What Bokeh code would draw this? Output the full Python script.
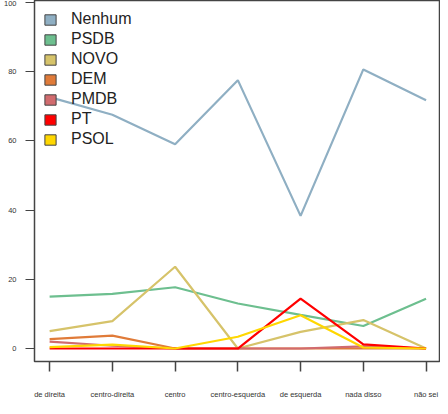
from bokeh.plotting import figure
from bokeh.models import Range1d, FixedTicker, Legend, LegendItem, ColumnDataSource
from bokeh.embed import file_html
from bokeh.resources import INLINE

categories = ["de direita", "centro-direita", "centro", "centro-esquerda",
              "de esquerda", "nada disso", "não sei"]
y_ticks = [0, 20, 40, 60, 80, 100]

series_names = ["Nenhum", "PSDB", "NOVO", "DEM", "PMDB", "PT", "PSOL"]
nenhum = [72.6, 67.5, 59.0, 77.5, 38.3, 80.6, 71.7]
psdb = [15.0, 15.8, 17.7, 13.0, 9.7, 6.5, 14.4]
novo = [5.0, 7.9, 23.6, 0.0, 4.8, 8.2, 0.0]
dem = [2.7, 3.7, 0.0, 0.0, 0.0, 0.0, 0.0]
pmdb = [2.0, 0.8, 0.0, 0.0, 0.0, 0.6, 0.0]
pt = [0.0, 0.0, 0.0, 0.0, 14.4, 1.2, 0.0]
psol = [0.4, 1.1, 0.0, 3.4, 9.6, 0.3, 0.0]
series_values = [nenhum, psdb, novo, dem, pmdb, pt, psol]
colors = ["#8FAFC3", "#6DBF8F", "#D6C36A", "#E07B39", "#D16B6E", "#FF0000", "#FFD700"]

xs = list(range(len(categories)))

p = figure(width=440, height=406, output_backend="svg", toolbar_location=None,
           x_range=Range1d(-0.241, 6.23), y_range=Range1d(-3.75, 100.5),
           min_border_left=30, min_border_right=0, min_border_top=0, min_border_bottom=45)
p.background_fill_color = "white"
p.border_fill_color = "white"
p.grid.visible = False
p.outline_line_color = "#444444"
p.outline_line_width = 1.5

lines = []
bars = []
for name, vals, c in zip(series_names, series_values, colors):
    src = ColumnDataSource(dict(x=xs, y=vals))
    r = p.line("x", "y", source=src, line_color=c, line_width=2.2)
    lines.append(r)
for name, vals, c in zip(series_names, series_values, colors):
    src = ColumnDataSource(dict(x=xs, y=vals))
    b = p.vbar(x="x", top="y", width=0.3, source=src, fill_color=c,
               line_color="#444444", line_width=1)
    b.visible = False
    bars.append(b)

legend = Legend(items=[LegendItem(label=n, renderers=[b]) for n, b in zip(series_names, bars)],
                location="top_left", border_line_color=None, background_fill_alpha=0,
                glyph_width=14, glyph_height=13, label_standoff=14,
                label_text_font="Liberation Sans", label_text_font_size="16px",
                label_text_color="#222222", label_height=20, spacing=0,
                padding=0, margin=9)
p.add_layout(legend)

p.xaxis.ticker = FixedTicker(ticks=xs)
p.xaxis.major_label_overrides = {i: c for i, c in enumerate(categories)}
p.xaxis.axis_line_color = None
p.xaxis.major_tick_out = 10
p.xaxis.major_tick_in = 0
p.xaxis.minor_tick_line_color = None
p.xaxis.major_tick_line_color = "#444444"
p.xaxis.major_tick_line_width = 1.5
p.xaxis.major_label_standoff = 18
p.xaxis.major_label_text_font = "Liberation Sans"
p.xaxis.major_label_text_font_size = "7.5px"
p.xaxis.major_label_text_color = "#333333"

p.yaxis.ticker = FixedTicker(ticks=y_ticks)
p.yaxis.axis_line_color = None
p.yaxis.major_tick_out = 9
p.yaxis.major_tick_in = 0
p.yaxis.minor_tick_line_color = None
p.yaxis.major_tick_line_color = "#444444"
p.yaxis.major_tick_line_width = 1.2
p.yaxis.major_label_standoff = 9
p.yaxis.major_label_text_font = "Liberation Sans"
p.yaxis.major_label_text_font_size = "7.5px"
p.yaxis.major_label_text_color = "#333333"
p.yaxis.major_label_orientation = "horizontal"

open("out.html", "w").write(file_html(p, INLINE))
